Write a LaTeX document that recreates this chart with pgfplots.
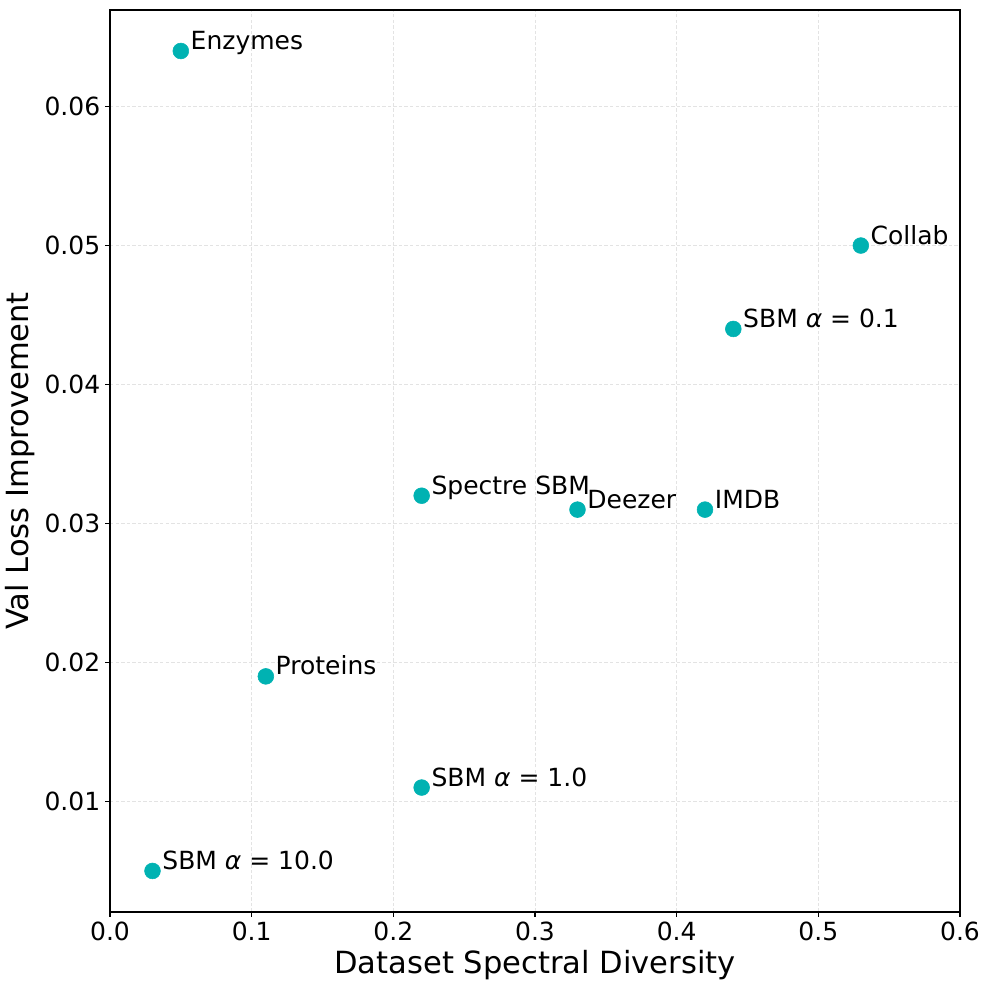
\documentclass[border=0pt]{standalone}
\usepackage{fontspec}
\setmainfont{DejaVu Sans}
\usepackage{pgfplots}
\pgfplotsset{compat=1.18}
\definecolor{pt}{RGB}{0,178,178}
\begin{document}
\begin{tikzpicture}[x=1pt,y=1pt]
\begin{axis}[
  at={(0,0)}, anchor=south west,
  scale only axis, width=612pt, height=649.4pt,
  xmin=0, xmax=0.6, ymin=0.00205, ymax=0.06695,
  xtick={0,0.1,...,0.6}, ytick={0.01,0.02,...,0.06},
  scaled y ticks=false, scaled x ticks=false,
  tick pos=left, tick align=outside, major tick length=3.5pt,
  /pgf/number format/assume math mode=true,
  xticklabel style={/pgf/number format/fixed,/pgf/number format/fixed zerofill,/pgf/number format/precision=1},
  yticklabel style={/pgf/number format/fixed,/pgf/number format/fixed zerofill,/pgf/number format/precision=2},
  tick label style={font=\fontsize{18}{21}\selectfont},
  label style={font=\fontsize{22}{26}\selectfont},
  xlabel={Dataset Spectral Diversity},
  ylabel={Val Loss Improvement},
  grid=major,
  major grid style={gray!22, dash pattern=on 2.5pt off 1.5pt, line width=0.5pt},
  axis line style={line width=0.8pt},
  every tick/.style={black, line width=0.8pt},
  clip=false,
  nodes near coords,
  point meta=explicit symbolic,
  every node near coord/.style={anchor=base west, xshift=3.6pt, yshift=1.1pt, font=\fontsize{18}{21}\selectfont, text=black},
]
\addplot[only marks, mark=*, mark size=5.7pt, color=pt]
  table[meta=label, col sep=comma] {
x,y,label
0.05,0.064,Enzymes
0.53,0.050,Collab
0.44,0.044,SBM {\itshape α} = 0.1
0.22,0.032,Spectre SBM
0.33,0.031,Deezer
0.42,0.031,IMDB
0.11,0.019,Proteins
0.22,0.011,SBM {\itshape α} = 1.0
0.03,0.005,SBM {\itshape α} = 10.0
};
\end{axis}
\pgfresetboundingbox
\useasboundingbox (-79.2pt,-55.44pt) rectangle (632.88pt,656.6pt);
\end{tikzpicture}
\end{document}
